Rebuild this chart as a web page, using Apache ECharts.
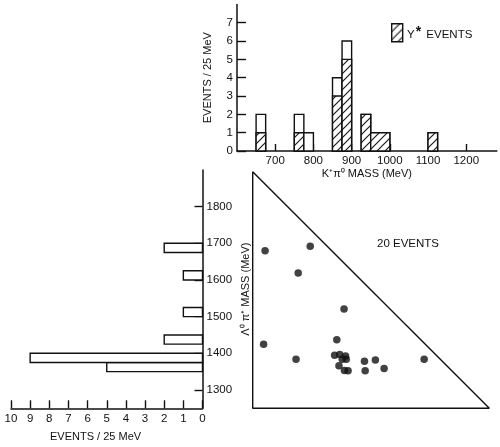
<!DOCTYPE html>
<html>
<head>
<meta charset="utf-8">
<script src="https://cdn.jsdelivr.net/npm/echarts@6/dist/echarts.min.js"></script>
<style>
  html, body { margin: 0; padding: 0; background: #fff; }
  #chart { width: 500px; height: 447px; }
</style>
</head>
<body>
<div id="chart"></div>
<script>
// K+ pi0 mass histogram, 25 MeV bins (events per 25 MeV)
const kBinLo  = [650, 750, 775, 850, 875, 925, 950, 1100];
const kBinHi  = [675, 775, 800, 875, 900, 950, 1000, 1125];
const kAll    = [2, 2, 1, 4, 6, 2, 1, 1];
const kYstar  = [1, 1, 0, 3, 5, 2, 1, 1];
const kTicks  = [700, 800, 900, 1000, 1100, 1200];
const kCountTicks = [0, 1, 2, 3, 4, 5, 6, 7];

// Lambda0 pi+ mass histogram
const lamBinLo = [1350, 1375, 1425, 1500, 1600, 1675];
const lamBinHi = [1375, 1400, 1450, 1525, 1625, 1700];
const lamAll   = [5, 9, 2, 1, 1, 2];
const lamTicks = [1300, 1400, 1500, 1600, 1700, 1800];
const lamCountTicks = [0, 1, 2, 3, 4, 5, 6, 7, 8, 9, 10];

// the 20 events: K+ pi0 mass vs Lambda0 pi+ mass (MeV)
const kMass   = [669, 793, 760, 886, 665, 866, 754, 860, 874, 890, 892, 881, 872, 887, 897, 942, 944, 972, 996, 1106];
const lamMass = [1683, 1695, 1622, 1523, 1426, 1438, 1385, 1396, 1398, 1394, 1385, 1385, 1367, 1354, 1353, 1379, 1353, 1383, 1359, 1385];

// kinematic boundary of the scatter plot
const edgeK   = [635, 635, 1285, 635];
const edgeLam = [1900, 1250, 1250, 1900];

const INK = '#111';
const FONT = '"Liberation Sans", Arial, sans-serif';

// diagonal hatching for the Y* events
function makeHatch() {
  const s = 8;
  const c = document.createElement('canvas');
  c.width = s; c.height = s;
  const g = c.getContext('2d');
  g.fillStyle = '#fff';
  g.fillRect(0, 0, s, s);
  g.strokeStyle = '#1a1a1a';
  g.lineWidth = 1.2;
  g.beginPath();
  g.moveTo(-1, s + 1); g.lineTo(s + 1, -1);
  g.moveTo(-1, 1); g.lineTo(1, -1);
  g.moveTo(s - 1, s + 1); g.lineTo(s + 1, s - 1);
  g.stroke();
  return { image: c, repeat: 'repeat' };
}
const hatch = makeHatch();

const topData = kBinLo.map((lo, i) => [lo, kBinHi[i], kAll[i], kYstar[i]]);
const leftData = lamBinLo.map((lo, i) => [lo, lamBinHi[i], lamAll[i]]);
const scatterData = kMass.map((m, i) => [m, lamMass[i]]);
const edgeData = edgeK.map((m, i) => [m, edgeLam[i]]);

const axisLine = { show: true, lineStyle: { color: INK, width: 1.5 } };
const plain = v => String(v);
const labelStyle = { color: INK, fontFamily: FONT, fontSize: 11.5, formatter: plain };
const nameStyle = { color: INK, fontFamily: FONT, fontSize: 11 };

const chart = echarts.init(document.getElementById('chart'), null, { renderer: 'canvas' });

chart.setOption({
  animation: false,
  backgroundColor: '#fff',
  grid: [
    { left: 237, top: 4.4, width: 259.8, height: 146.6, outerBoundsMode: 'none' },
    { left: 11, top: 170, width: 191.5, height: 238.3, outerBoundsMode: 'none' },
    { left: 252.7, top: 171.7, width: 236.6, height: 236.6, outerBoundsMode: 'none' }
  ],
  xAxis: [
    {
      gridIndex: 0, type: 'value', min: 600, max: 1280, interval: 100,
      axisLine: axisLine,
      axisTick: { show: true, inside: true, length: 7, customValues: kTicks, lineStyle: { color: INK, width: 1.4 } },
      axisLabel: Object.assign({ margin: 4, customValues: kTicks }, labelStyle),
      splitLine: { show: false },
      name: 'K\u207A\u03C0\u2070 MASS (MeV)', nameLocation: 'middle', nameGap: 17,
      nameTextStyle: nameStyle
    },
    {
      gridIndex: 1, type: 'value', min: 0, max: 10, interval: 1, inverse: true,
      axisLine: axisLine,
      axisTick: { show: true, inside: true, length: 8, customValues: lamCountTicks, lineStyle: { color: INK, width: 1.4 } },
      axisLabel: Object.assign({ margin: 5, customValues: lamCountTicks }, labelStyle),
      splitLine: { show: false }
    },
    { gridIndex: 2, type: 'value', min: 635, max: 1285, show: false }
  ],
  yAxis: [
    {
      gridIndex: 0, type: 'value', min: 0, max: 8, interval: 1,
      axisLine: axisLine,
      axisTick: { show: true, inside: true, length: 9, customValues: kCountTicks, lineStyle: { color: INK, width: 1.4 } },
      axisLabel: Object.assign({ margin: 4, customValues: kCountTicks }, labelStyle),
      splitLine: { show: false },
      name: 'EVENTS / 25 MeV', nameLocation: 'middle', nameGap: 24, nameRotate: 90,
      nameTextStyle: nameStyle
    },
    {
      gridIndex: 1, type: 'value', min: 1250, max: 1900, interval: 50, position: 'right',
      axisLine: axisLine,
      axisTick: { show: true, inside: true, length: 8, customValues: lamTicks, lineStyle: { color: INK, width: 1.4 } },
      axisLabel: Object.assign({ margin: 4, customValues: lamTicks }, labelStyle),
      splitLine: { show: false },
      name: '\u039B\u2070 \u03C0\u207A MASS (MeV)', nameLocation: 'middle', nameGap: 38, nameRotate: 90,
      nameTextStyle: nameStyle
    },
    { gridIndex: 2, type: 'value', min: 1250, max: 1900, show: false }
  ],
  series: [
    {
      type: 'custom', xAxisIndex: 0, yAxisIndex: 0,
      data: topData,
      encode: { x: [0, 1], y: [2, 3] },
      renderItem: function (params, api) {
        const lo = api.value(0), hi = api.value(1), all = api.value(2), ys = api.value(3);
        const b = api.coord([lo, 0]);
        const t = api.coord([hi, all]);
        const h = api.coord([hi, ys]);
        const children = [{
          type: 'rect',
          shape: { x: b[0], y: t[1], width: t[0] - b[0], height: b[1] - t[1] },
          style: { fill: '#fff', stroke: INK, lineWidth: 1.4 }
        }];
        if (ys > 0) {
          children.push({
            type: 'rect',
            shape: { x: b[0], y: h[1], width: h[0] - b[0], height: b[1] - h[1] },
            style: { fill: hatch, stroke: INK, lineWidth: 1.4 }
          });
        }
        return { type: 'group', children: children };
      },
      z: 3
    },
    {
      type: 'custom', xAxisIndex: 1, yAxisIndex: 1,
      data: leftData,
      encode: { x: 2, y: [0, 1] },
      renderItem: function (params, api) {
        const lo = api.value(0), hi = api.value(1), n = api.value(2);
        const a = api.coord([0, lo]);
        const c = api.coord([n, hi]);
        return {
          type: 'rect',
          shape: {
            x: Math.min(a[0], c[0]), y: Math.min(a[1], c[1]),
            width: Math.abs(c[0] - a[0]), height: Math.abs(c[1] - a[1])
          },
          style: { fill: '#fff', stroke: INK, lineWidth: 1.4 }
        };
      },
      z: 3
    },
    {
      type: 'line', xAxisIndex: 2, yAxisIndex: 2,
      data: edgeData, symbol: 'none',
      lineStyle: { color: INK, width: 1.4 },
      silent: true
    },
    {
      type: 'scatter', xAxisIndex: 2, yAxisIndex: 2,
      data: scatterData, symbol: 'circle', symbolSize: 7.5,
      itemStyle: { color: INK }
    }
  ],
  graphic: [
    {
      type: 'rect', left: 391, top: 23,
      shape: { width: 11, height: 18 },
      style: { fill: hatch, stroke: INK, lineWidth: 1.4 }
    },
    {
      type: 'text', left: 407, top: 25,
      style: {
        text: 'Y{s|*} EVENTS',
        fill: INK, font: '11.5px ' + FONT,
        rich: { s: { fontSize: 14, fontWeight: 'bold', fontFamily: FONT, padding: [0, 2, 6, 1] } }
      }
    },
    {
      type: 'text', left: 377, top: 238,
      style: { text: '20 EVENTS', fill: INK, font: '11.5px ' + FONT }
    },
    {
      type: 'text', left: 50, top: 431,
      style: { text: 'EVENTS / 25 MeV', fill: INK, font: '11px ' + FONT }
    }
  ]
});
</script>
</body>
</html>
